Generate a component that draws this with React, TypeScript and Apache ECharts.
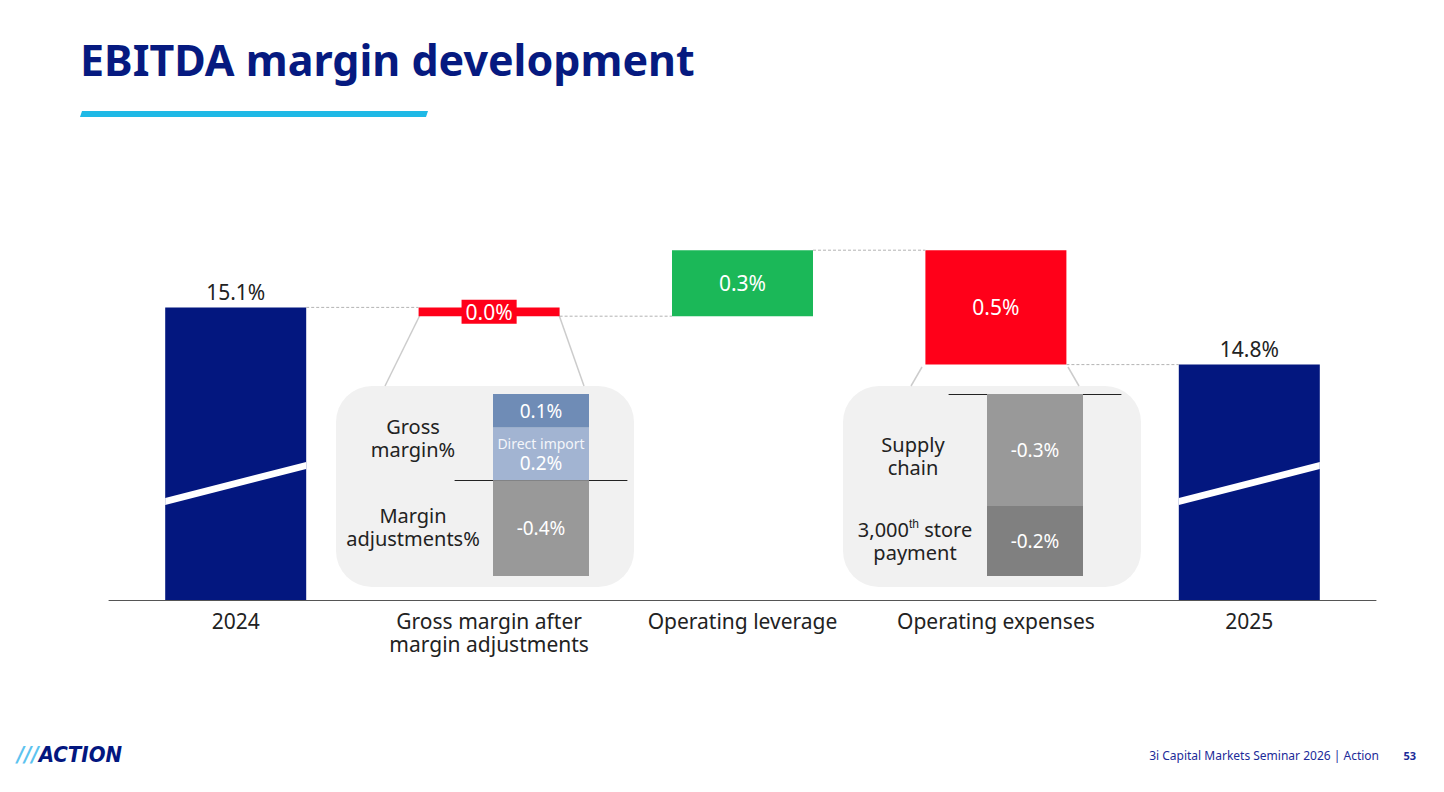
import {useEffect, useRef} from "react";
import * as echarts from "echarts";

// main bridge
const categories = ["2024", "Gross margin after\nmargin adjustments", "Operating leverage", "Operating expenses", "2025"];
const startMargin = 15.1;
const bridgeSteps = [-0.04, 0.3, -0.52]; // gross margin, operating leverage, opex
const endMargin = 14.84;

// left inset: gross margin after adjustments
const gmRowLabels = ["Gross\nmargin%", "Margin\nadjustments%"];
const gmDirectImport = 0.22;
const gmOther = 0.14;
const gmAdjustments = -0.4;

// right inset: operating expenses
const opexRowLabels = ["Supply\nchain", "3,000{sup|th} store\npayment"];
const opexSupplyChain = -0.32;
const opexStorePayment = -0.2;

const NAVY = "#03177F";
const RED = "#FF0019";
const GREEN = "#1BB858";
const FONT = "'Noto Sans', sans-serif";
const BAR_W = 141;

const pct = (v: number) => `${Math.abs(v).toFixed(1)}%`;

// running levels of the bridge
const levels = [startMargin];
bridgeSteps.forEach(s => levels.push(levels[levels.length - 1] + s));
levels.push(endMargin);

const baseData = [0, ...bridgeSteps.map((s, i) => Math.min(levels[i], levels[i] + s)), 0];
const deltaData = [startMargin, ...bridgeSteps.map(s => Math.abs(s)), endMargin];

const rowLabel = (text: string, x: number, y: number, rich?: any) => ({
    type: "text", z: 10, x, y,
    style: {text, fill: "#222", font: `20px ${FONT}`, lineHeight: 23, align: "center", verticalAlign: "middle", rich},
});

export default function App() {
    const domRef = useRef<HTMLDivElement>(null);

    useEffect(() => {
        if (!domRef.current) return;
        const chart = echarts.init(domRef.current, null, {renderer: "svg"});

        const deltaItems = deltaData.map((v, i) => {
            const isEnd = i === 0 || i === deltaData.length - 1;
            const step = isEnd ? 0 : bridgeSteps[i - 1];
            const color = isEnd ? NAVY : step < 0 ? RED : GREEN;
            const label: any = isEnd
                ? {show: true, position: "top", distance: 5, color: "#222", fontSize: 21}
                : {show: true, position: "inside", color: "#fff", fontSize: 21};
            if (!isEnd && Math.abs(step) < 0.05) {
                label.backgroundColor = RED;
                label.padding = [2, 4, 1, 4];
            }
            return {value: v, itemStyle: {color}, label};
        });

        chart.setOption({
            animation: false,
            textStyle: {fontFamily: FONT},
            grid: [
                {left: 109, right: 68, top: 160, bottom: 192},
                {left: 455, width: 172, top: 394, height: 182},
                {left: 949, width: 172, top: 394, height: 182},
            ],
            xAxis: [
                {
                    type: "category", gridIndex: 0, data: categories,
                    axisLine: {lineStyle: {color: "#555", width: 1}},
                    axisTick: {show: false},
                    axisLabel: {interval: 0, color: "#222", fontSize: 21, lineHeight: 23, margin: 9},
                },
                {
                    type: "category", gridIndex: 1, data: ["gm"],
                    axisLine: {onZero: true, lineStyle: {color: "#222", width: 1}},
                    axisTick: {show: false}, axisLabel: {show: false},
                },
                {
                    type: "category", gridIndex: 2, data: ["opex"],
                    axisLine: {onZero: true, lineStyle: {color: "#222", width: 1}},
                    axisTick: {show: false}, axisLabel: {show: false},
                },
            ],
            yAxis: [
                {type: "value", gridIndex: 0, min: 13.77, max: 15.77, show: false},
                {type: "value", gridIndex: 1, min: -0.4, max: 0.36, show: false},
                {type: "value", gridIndex: 2, min: -0.52, max: 0, show: false},
            ],
            series: [
                {
                    type: "bar", stack: "bridge", barWidth: BAR_W, silent: true,
                    itemStyle: {color: "transparent"}, data: baseData,
                },
                {
                    type: "bar", stack: "bridge", barWidth: BAR_W, data: deltaItems,
                    label: {formatter: (p: any) => pct(p.value)},
                },
                {
                    // dashed connectors between bars
                    type: "custom", z: 3, silent: true,
                    data: levels.slice(0, levels.length - 1).map((l, i) => [i, l]),
                    renderItem: (_params: any, api: any) => {
                        const i = api.value(0);
                        const lvl = api.value(1);
                        const p1 = api.coord([i, lvl]);
                        const p2 = api.coord([i + 1, lvl]);
                        return {
                            type: "line",
                            shape: {x1: p1[0] + BAR_W / 2, y1: p1[1], x2: p2[0] - BAR_W / 2, y2: p1[1]},
                            style: {stroke: "#b3b3b3", lineWidth: 1, lineDash: [3, 2]},
                        };
                    },
                },
                {
                    // axis-break slash on the end bars
                    type: "custom", z: 4, silent: true,
                    data: [[0, startMargin], [categories.length - 1, endMargin]],
                    renderItem: (params: any, api: any) => {
                        const c = api.coord([api.value(0), api.value(1)]);
                        const by = params.coordSys.y + params.coordSys.height;
                        const l = c[0] - BAR_W / 2;
                        const r = c[0] + BAR_W / 2;
                        return {
                            type: "polygon",
                            shape: {points: [[l, by - 102], [r, by - 138], [r, by - 131], [l, by - 95]]},
                            style: {fill: "#fff"},
                        };
                    },
                },
                // left inset
                {
                    type: "bar", xAxisIndex: 1, yAxisIndex: 1, stack: "gm", barWidth: 96,
                    itemStyle: {color: "#A2B4D2"}, data: [gmDirectImport],
                    label: {
                        show: true, position: "inside",
                        formatter: (p: any) => `{s|Direct import}\n{v|${pct(p.value)}}`,
                        rich: {
                            s: {color: "#f4f6fa", fontSize: 14, lineHeight: 18},
                            v: {color: "#fff", fontSize: 19, lineHeight: 21},
                        },
                    },
                },
                {
                    type: "bar", xAxisIndex: 1, yAxisIndex: 1, stack: "gm", barWidth: 96,
                    itemStyle: {color: "#6F8CB6"}, data: [gmOther],
                    label: {show: true, position: "inside", color: "#fff", fontSize: 19, formatter: (p: any) => pct(p.value)},
                },
                {
                    type: "bar", xAxisIndex: 1, yAxisIndex: 1, stack: "gm", barWidth: 96,
                    itemStyle: {color: "#999999"}, data: [gmAdjustments],
                    label: {show: true, position: "inside", color: "#fff", fontSize: 19, formatter: (p: any) => `-${pct(p.value)}`},
                },
                // right inset
                {
                    type: "bar", xAxisIndex: 2, yAxisIndex: 2, stack: "opex", barWidth: 96,
                    itemStyle: {color: "#999999"}, data: [opexSupplyChain],
                    label: {show: true, position: "inside", color: "#fff", fontSize: 19, formatter: (p: any) => `-${pct(p.value)}`},
                },
                {
                    type: "bar", xAxisIndex: 2, yAxisIndex: 2, stack: "opex", barWidth: 96,
                    itemStyle: {color: "#808080"}, data: [opexStorePayment],
                    label: {show: true, position: "inside", color: "#fff", fontSize: 19, formatter: (p: any) => `-${pct(p.value)}`},
                },
            ],
            graphic: [
                {
                    type: "text", left: 80, top: 38, z: 10,
                    style: {text: "EBITDA margin development", fill: "#061A80", font: `bold 43px ${FONT}`},
                },
                {
                    type: "polygon", z: 10,
                    shape: {points: [[82, 111], [428, 111], [426, 117], [80, 117]]},
                    style: {fill: "#1FB9E6"},
                },
                // inset panels
                {type: "rect", z: 0, shape: {x: 336, y: 386, width: 298, height: 201, r: 36}, style: {fill: "#F1F1F1"}},
                {type: "rect", z: 0, shape: {x: 843, y: 386, width: 298, height: 201, r: 36}, style: {fill: "#F1F1F1"}},
                {type: "line", z: 1, shape: {x1: 420, y1: 315, x2: 385, y2: 386}, style: {stroke: "#cccccc", lineWidth: 1.5}},
                {type: "line", z: 1, shape: {x1: 559, y1: 315, x2: 584, y2: 386}, style: {stroke: "#cccccc", lineWidth: 1.5}},
                {type: "line", z: 1, shape: {x1: 922, y1: 367, x2: 911, y2: 386}, style: {stroke: "#cccccc", lineWidth: 1.5}},
                {type: "line", z: 1, shape: {x1: 1068, y1: 367, x2: 1079, y2: 386}, style: {stroke: "#cccccc", lineWidth: 1.5}},
                rowLabel(gmRowLabels[0], 413, 438),
                rowLabel(gmRowLabels[1], 413, 527),
                rowLabel(opexRowLabels[0], 913, 456),
                rowLabel(opexRowLabels[1], 915, 541, {
                    sup: {fontSize: 12, verticalAlign: "top", lineHeight: 23, padding: [0, 0, 8, 0], fill: "#222"},
                }),
                // footer
                {
                    type: "text", z: 10, x: 17, y: 754,
                    style: {
                        text: "{a|///}{b|ACTION}", verticalAlign: "middle",
                        rich: {
                            a: {fill: "#5CC3EF", font: `italic bold 22px 'DejaVu Sans Condensed', ${FONT}`},
                            b: {fill: NAVY, font: `italic bold 22px 'DejaVu Sans Condensed', ${FONT}`},
                        },
                    },
                },
                {
                    type: "text", z: 10, x: 1379, y: 755,
                    style: {text: "3i Capital Markets Seminar 2026 | Action", fill: "#1C2B99", font: `12px ${FONT}`, align: "right", verticalAlign: "middle"},
                },
                {
                    type: "text", z: 10, x: 1416, y: 755,
                    style: {text: "53", fill: "#1C2B99", font: `bold 11px ${FONT}`, align: "right", verticalAlign: "middle"},
                },
            ],
        });

        return () => chart.dispose();
    }, []);

    return <div ref={domRef} style={{position: "fixed", left: 0, top: 0, width: 1444, height: 792, background: "#fff"}} />;
}
